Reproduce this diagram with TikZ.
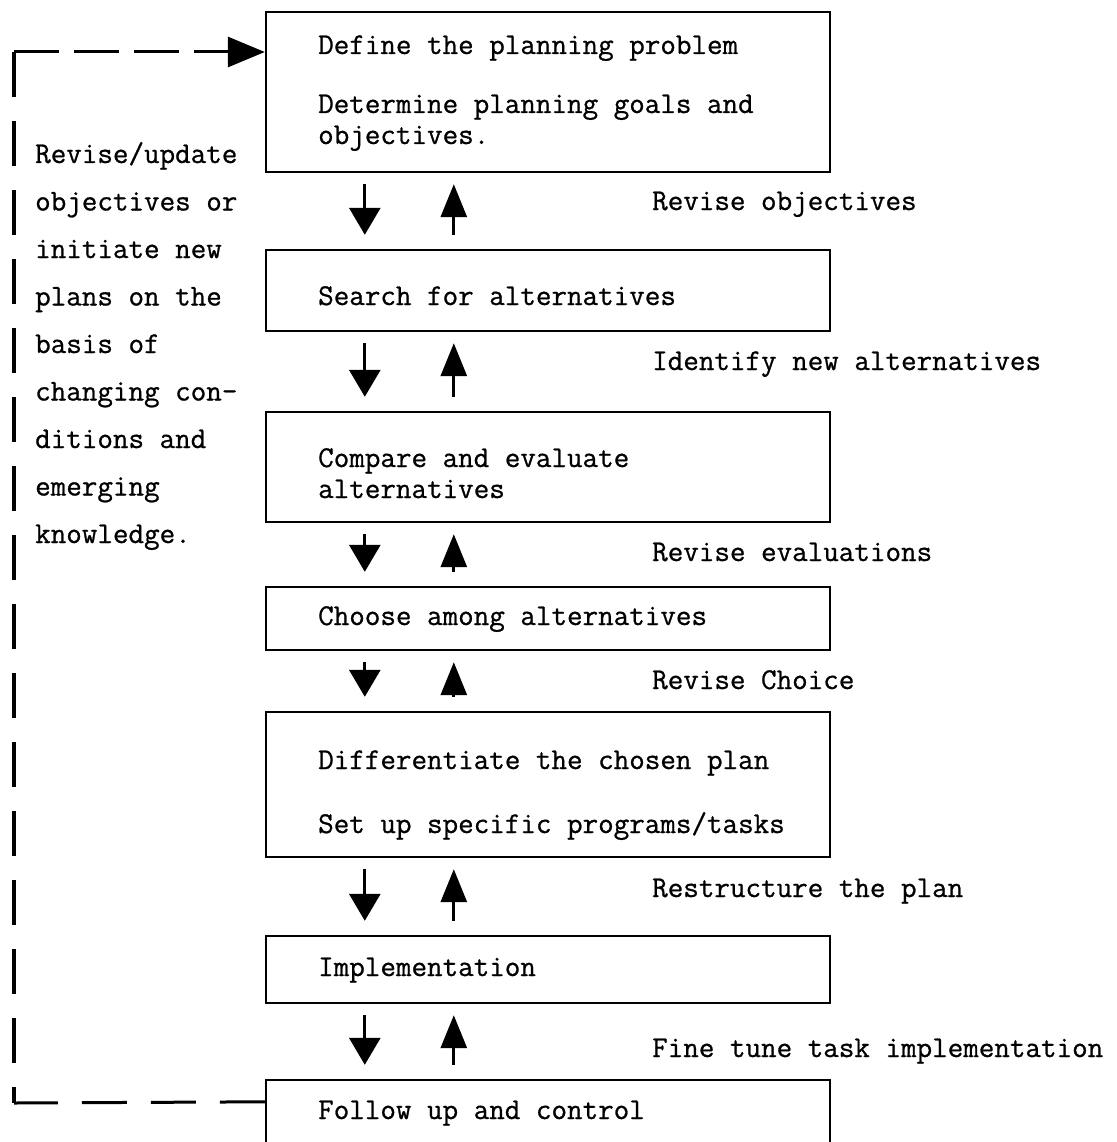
\documentclass[tikz,border=0pt]{standalone}
\usepackage{fontspec}
\newfontfamily\tw{Latin Modern Mono}[FakeBold=0.8]
\usetikzlibrary{arrows.meta,calc}
\begin{document}
\begin{tikzpicture}[x=1pt,y=-1pt,
  box/.style={draw, line width=2.4pt, rectangle, inner sep=0pt, minimum width=564pt},
  txt/.style={anchor=base west, inner sep=0pt, font=\fontsize{30.2}{36}\selectfont\tw},
  dnarrow/.style={line width=3pt, -{Triangle[length=27pt,width=31pt]}},
  uparrow/.style={line width=3pt, -{Triangle[length=33pt,width=26pt]}},
  fbh/.style={line width=3pt, dash pattern=on 45pt off 24pt},
  fbv/.style={line width=3.2pt, dash pattern=on 45pt off 24pt},
  fbtop/.style={line width=3pt, dash pattern=on 45pt off 15pt, -{Triangle[length=37pt,width=30pt]}}]
\useasboundingbox (0,0) rectangle (1116,1142);
\clip (0,0) rectangle (1116,1142);
% boxes
\node[box, minimum height=160pt] (b1) at (548,92) {};
\node[box, minimum height=81pt] (b2) at (548,290.5) {};
\node[box, minimum height=110pt] (b3) at (548,467) {};
\node[box, minimum height=63pt] (b4) at (548,618.5) {};
\node[box, minimum height=145pt] (b5) at (548,784.5) {};
\node[box, minimum height=67pt] (b6) at (548,969.5) {};
\node[box, minimum height=80pt] (b7) at (548,1120) {};
% box texts
\node[txt] (t1a) at (318,54) {Define the planning problem};
\node[txt] (t1b) at (318,113) {Determine planning goals and};
\node[txt] (t1c) at (318,144) {objectives.};
\node[txt] (t2) at (318,305) {Search for alternatives};
\node[txt] (t3a) at (318,467) {Compare and evaluate};
\node[txt] (t3b) at (318,498) {alternatives};
\node[txt] (t4) at (318,625) {Choose among alternatives};
\node[txt] (t5a) at (318,769) {Differentiate the chosen plan};
\node[txt] (t5b) at (318,833) {Set up specific programs/tasks};
\node[txt] (t6) at (318,976) {Implementation};
\node[txt] (t7) at (318,1119) {Follow up and control};
% side labels
\node[txt] (l1) at (652,210) {Revise objectives};
\node[txt] (l2) at (652,370) {Identify new alternatives};
\node[txt] (l3) at (652,561) {Revise evaluations};
\node[txt] (l4) at (652,689) {Revise Choice};
\node[txt] (l5) at (652,897) {Restructure the plan};
\node[txt] (l6) at (652,1057) {Fine tune task implementation};
% left text
\foreach \s [count=\i from 0] in {Revise/update,objectives or,initiate new,plans on the,basis of,changing con-,ditions and,emerging,knowledge.}
  \node[txt] (lt\i) at (35,163+47.5*\i) {\s};
% arrows between boxes
\foreach \a/\b in {b1/b2,b2/b3,b3/b4,b4/b5,b5/b6,b6/b7}{
  \draw[dnarrow] ($(\a.south west)+(100,11)$) -- ($(\b.north west)+(100,-14)$);
  \draw[uparrow] ($(\b.north west)+(189,-14)$) -- ($(\a.south west)+(189,11)$);
}
% feedback dashed connector
\coordinate (fbb) at (14,1103);
\coordinate (fbt) at (14,52);
\coordinate (fbs) at ($(b7.north west)+(0,23)$);
\draw[fbh] (fbs) -- (fbb);
\draw[fbv] (fbt) -- (fbb);
\draw[fbtop] (fbt) -- (fbt -| b1.west);
\end{tikzpicture}
\end{document}
